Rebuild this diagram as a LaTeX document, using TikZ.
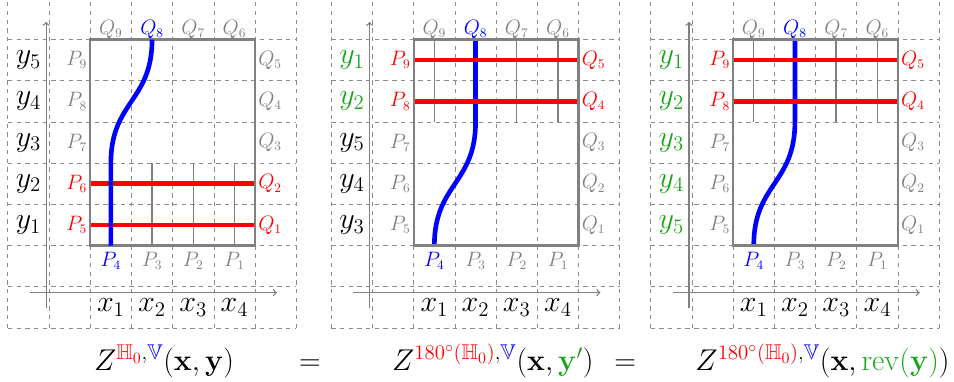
\documentclass[tikz,border=0pt]{standalone}
\usepackage{amsmath,amssymb}
\definecolor{ygreen}{rgb}{0.1,0.65,0.1}

\begin{document}
\begin{tikzpicture}[
  gridline/.style={gray!90,dashed,line width=0.5pt},
  frame/.style={gray,line width=1.7pt},
  axis/.style={gray,line width=0.9pt,->},
  rung/.style={gray,line width=1pt},
  redline/.style={red,line width=3.2pt},
  blueline/.style={blue,line width=3.2pt},
  lab/.style={font=\fontsize{13.5}{16}\selectfont,inner sep=2pt},
  big/.style={font=\fontsize{21}{25}\selectfont,inner sep=0pt},
]
\useasboundingbox (-0.19,-1.29) rectangle (22.96,7.96);

% grid, axes and the labels all three panels share
\foreach \dx/\k in {0/a,7.85/b,15.6/c}{
\begin{scope}[xshift=\dx cm]
\draw[gridline] (0,0) grid (7,7.96);
\draw[axis] (0.53,0.86)--(6.53,0.86);
\draw[axis] (0.93,0.49)--(0.93,7.43);
\foreach \i/\q/\qc/\p/\pc in {1/9/gray/4/blue,2/8/blue/3/gray,3/7/gray/2/gray,4/6/gray/1/gray}{
  \node[big] (x\i-\k) at (\i+1.5,0.5) {$x_\i$};
  \node[lab,\qc,anchor=south,inner sep=0.5pt] (Q\q-\k) at (\i+1.5,7) {$Q_\q$};
  \node[lab,\pc,anchor=north,inner sep=4.5pt] (P\p-\k) at (\i+1.5,2) {$P_\p$};
}
\end{scope}
}

% first panel
\foreach \r/\p/\c in {1/5/red,2/6/red,3/7/gray,4/8/gray,5/9/gray}{
  \node[lab,\c,anchor=east] (P\p-a) at (2,\r+1.5) {$P_\p$};
  \node[lab,\c,anchor=west] (Q\r-a) at (6,\r+1.5) {$Q_\r$};
  \node[big] (y\r-a) at (0.5,\r+1.5) {$y_\r$};
}
\foreach \x in {2.5,3.5,4.5,5.5}
  \draw[rung] (\x,2)--(\x,4);
\draw[redline] (P5-a.east)--(Q1-a.west);
\draw[redline] (P6-a.east)--(Q2-a.west);
\draw[frame] (2,2) rectangle (6,7);
\draw[blueline] (P4-a.north)--++(0,2) .. controls +(0,1.5) and +(0,-1.5) .. (Q8-a.south);

% second panel
\begin{scope}[xshift=7.85cm]
\foreach \r/\p/\c/\y/\yc in {1/5/gray/3/black,2/6/gray/4/black,3/7/gray/5/black,4/8/red/2/ygreen,5/9/red/1/ygreen}{
  \node[lab,\c,anchor=east] (P\p-b) at (2,\r+1.5) {$P_\p$};
  \node[lab,\c,anchor=west] (Q\r-b) at (6,\r+1.5) {$Q_\r$};
  \node[big,\yc] (y\y-b) at (0.5,\r+1.5) {$y_\y$};
}
\foreach \x in {2.5,3.5,4.5,5.5}
  \draw[rung] (\x,5)--(\x,7);
\draw[blueline] (Q8-b.south)--++(0,-2) .. controls +(0,-1.5) and +(0,1.5) .. (P4-b.north);
\draw[redline] (P8-b.east)--(Q4-b.west);
\draw[redline] (P9-b.east)--(Q5-b.west);
\draw[frame] (2,2) rectangle (6,7);
\end{scope}

% third panel
\begin{scope}[xshift=15.6cm]
\foreach \r/\p/\c/\y in {1/5/gray/5,2/6/gray/4,3/7/gray/3,4/8/red/2,5/9/red/1}{
  \node[lab,\c,anchor=east] (P\p-c) at (2,\r+1.5) {$P_\p$};
  \node[lab,\c,anchor=west] (Q\r-c) at (6,\r+1.5) {$Q_\r$};
  \node[big,ygreen] (y\y-c) at (0.5,\r+1.5) {$y_\y$};
}
\foreach \x in {2.5,3.5,4.5,5.5}
  \draw[rung] (\x,5)--(\x,7);
\draw[blueline] (Q8-c.south)--++(0,-2) .. controls +(0,-1.5) and +(0,1.5) .. (P4-c.north);
\draw[redline] (P8-c.east)--(Q4-c.west);
\draw[redline] (P9-c.east)--(Q5-c.west);
\draw[frame] (2,2) rectangle (6,7);
\end{scope}

% the identity underneath
\node[big,anchor=base] (lhs) at (3.79,-1.04) {$Z^{{\color{red}\mathbb{H}_0},{\color{blue}\mathbb{V}}}(\mathbf{x},\mathbf{y})$};
\node[big,anchor=base] (eq1) at (7.33,-1.04) {$=$};
\node[big,anchor=base] (mid) at (11.77,-1.04) {$Z^{{\color{red}180^\circ(\mathbb{H}_0)},{\color{blue}\mathbb{V}}}(\mathbf{x},{\color{ygreen}\mathbf{y}'})$};
\node[big,anchor=base] (eq2) at (14.98,-1.04) {$=$};
\node[big,anchor=base] (rhs) at (19.77,-1.04) {$Z^{{\color{red}180^\circ(\mathbb{H}_0)},{\color{blue}\mathbb{V}}}(\mathbf{x},{\color{ygreen}\mathrm{rev}(\mathbf{y})})$};
\end{tikzpicture}
\end{document}
